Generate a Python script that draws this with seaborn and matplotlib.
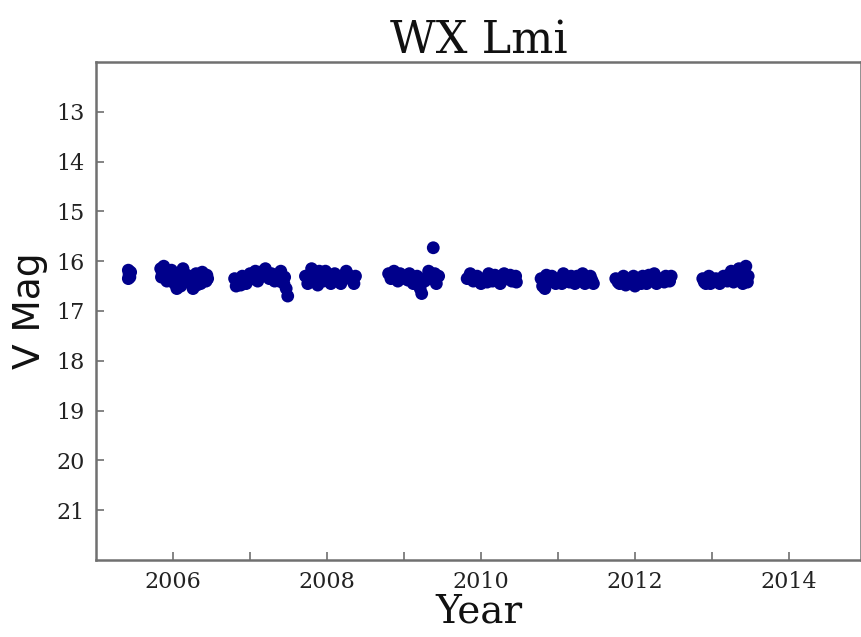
import numpy as np
import pandas as pd
import matplotlib
matplotlib.use("Agg")
import matplotlib.pyplot as plt
import seaborn as sns

# ---- data ----
s1_year = [2005.42, 2005.43, 2005.44, 2005.42, 2005.45, 2005.43]
s1_mag = [16.18, 16.25, 16.32, 16.35, 16.22, 16.30]

s2_year = [2005.84, 2005.86, 2005.88, 2005.90, 2005.93, 2005.96, 2006.00, 2006.02, 2006.05, 2006.08, 2006.10,
           2006.13, 2006.16, 2006.20, 2006.23, 2006.26, 2006.30, 2006.33, 2006.36, 2006.40, 2006.43, 2006.45,
           2005.85, 2005.92, 2005.98, 2006.04, 2006.11, 2006.18, 2006.24, 2006.31, 2006.38, 2006.44]
s2_mag = [16.15, 16.25, 16.10, 16.30, 16.20, 16.35, 16.25, 16.45, 16.55, 16.30, 16.50,
          16.15, 16.40, 16.30, 16.45, 16.55, 16.25, 16.35, 16.45, 16.30, 16.40, 16.35,
          16.32, 16.40, 16.18, 16.38, 16.22, 16.28, 16.35, 16.48, 16.22, 16.28]

s3_year = [2006.80, 2006.82, 2006.85, 2006.90, 2006.95, 2007.00, 2007.03, 2007.07, 2007.10, 2007.15,
           2007.20, 2007.25, 2007.28, 2007.32, 2007.36, 2007.40, 2007.44, 2007.47, 2007.49,
           2006.88, 2006.98, 2007.05, 2007.13, 2007.22, 2007.30, 2007.38, 2007.45]
s3_mag = [16.35, 16.50, 16.40, 16.30, 16.45, 16.25, 16.35, 16.20, 16.40, 16.30,
          16.15, 16.35, 16.25, 16.40, 16.30, 16.20, 16.45, 16.55, 16.70,
          16.48, 16.38, 16.28, 16.22, 16.30, 16.35, 16.40, 16.32]

s4_year = [2007.72, 2007.75, 2007.80, 2007.85, 2007.90, 2007.95, 2008.00, 2008.05, 2008.10, 2008.15,
           2008.20, 2008.25, 2008.30, 2008.35, 2007.78, 2007.88, 2007.98, 2008.08, 2008.18, 2008.28, 2008.37]
s4_mag = [16.30, 16.45, 16.15, 16.35, 16.20, 16.40, 16.30, 16.45, 16.25, 16.40,
          16.30, 16.20, 16.35, 16.45, 16.38, 16.48, 16.20, 16.35, 16.45, 16.28, 16.30]

s5_year = [2008.80, 2008.83, 2008.87, 2008.92, 2008.97, 2009.02, 2009.07, 2009.12, 2009.17, 2009.21,
           2009.23, 2009.27, 2009.32, 2009.36, 2009.38, 2009.42, 2009.45, 2008.85, 2008.95, 2009.05, 2009.15,
           2009.30, 2009.40]
s5_mag = [16.25, 16.35, 16.20, 16.40, 16.30, 16.35, 16.25, 16.45, 16.30, 16.55,
          16.65, 16.40, 16.20, 16.35, 15.73, 16.45, 16.30, 16.30, 16.25, 16.38, 16.40,
          16.32, 16.25]

s6_year = [2009.82, 2009.86, 2009.90, 2009.95, 2010.00, 2010.05, 2010.10, 2010.15, 2010.20, 2010.25,
           2010.30, 2010.35, 2010.40, 2010.45, 2009.88, 2009.98, 2010.08, 2010.18, 2010.28, 2010.38, 2010.46]
s6_mag = [16.35, 16.25, 16.40, 16.30, 16.45, 16.35, 16.25, 16.40, 16.30, 16.45,
          16.25, 16.35, 16.40, 16.30, 16.32, 16.38, 16.42, 16.28, 16.38, 16.28, 16.42]

s7_year = [2010.78, 2010.80, 2010.83, 2010.87, 2010.92, 2010.97, 2011.02, 2011.07, 2011.12, 2011.17,
           2011.22, 2011.27, 2011.32, 2011.37, 2011.42, 2011.46, 2010.85, 2010.95, 2011.05, 2011.15,
           2011.25, 2011.35, 2011.44]
s7_mag = [16.35, 16.50, 16.55, 16.40, 16.30, 16.45, 16.35, 16.25, 16.40, 16.30,
          16.45, 16.35, 16.25, 16.40, 16.30, 16.45, 16.28, 16.38, 16.45, 16.42,
          16.30, 16.45, 16.38]

s8_year = [2011.75, 2011.80, 2011.85, 2011.90, 2011.95, 2012.00, 2012.05, 2012.10, 2012.15, 2012.20,
           2012.25, 2012.30, 2012.35, 2012.40, 2012.45, 2011.78, 2011.88, 2011.98, 2012.08, 2012.18,
           2012.28, 2012.38, 2012.47]
s8_mag = [16.35, 16.45, 16.30, 16.40, 16.35, 16.50, 16.40, 16.30, 16.45, 16.35,
          16.25, 16.40, 16.35, 16.30, 16.40, 16.42, 16.48, 16.30, 16.45, 16.28,
          16.45, 16.42, 16.30]

s9_year = [2012.88, 2012.92, 2012.96, 2013.00, 2013.05, 2013.10, 2013.15, 2013.20, 2013.25, 2013.30,
           2013.35, 2013.40, 2013.44, 2013.47, 2012.90, 2012.98, 2013.08, 2013.18, 2013.28, 2013.38,
           2013.46, 2013.42]
s9_mag = [16.35, 16.45, 16.30, 16.40, 16.35, 16.45, 16.30, 16.40, 16.20, 16.35,
          16.15, 16.45, 16.10, 16.30, 16.42, 16.45, 16.38, 16.30, 16.42, 16.25,
          16.42, 16.20]

x_ticks = [2006, 2008, 2010, 2012, 2014]
y_ticks = [13, 14, 15, 16, 17, 18, 19, 20, 21]

years = s1_year + s2_year + s3_year + s4_year + s5_year + s6_year + s7_year + s8_year + s9_year
mags = s1_mag + s2_mag + s3_mag + s4_mag + s5_mag + s6_mag + s7_mag + s8_mag + s9_mag
df = pd.DataFrame({"Year": years, "VMag": mags})

sns.set_style("white")
plt.rcParams["font.family"] = ["DejaVu Serif"]

fig = plt.figure(figsize=(8.62, 6.37), dpi=100)
ax = fig.add_axes([96 / 862, 1 - 560 / 637, (861 - 96) / 862, (560 - 62) / 637])

sns.scatterplot(data=df, x="Year", y="VMag", ax=ax, color="#00008B", s=85,
                edgecolor="none", linewidth=0, legend=False)

ax.set_xlim(2005, 2005 + (861 - 96) / 77.0)
ax.set_ylim(22, 12)
ax.set_xticks(x_ticks)
ax.set_xticklabels([str(t) for t in x_ticks])
ax.set_xticks([2007, 2009, 2011, 2013], minor=True)
ax.set_yticks(y_ticks)
ax.set_yticklabels([str(t) for t in y_ticks])

for side in ["left", "bottom", "top", "right"]:
    ax.spines[side].set_color("#707070")
    ax.spines[side].set_linewidth(1.8)

ax.tick_params(axis="both", which="major", direction="in", length=6, width=1.2,
               color="#707070", labelsize=16, labelcolor="#222222",
               bottom=True, left=True, top=False, right=False, pad=8)
ax.tick_params(axis="x", which="minor", direction="in", length=6, width=1.2,
               color="#707070", bottom=True, top=False)

ax.set_title("WX Lmi", fontsize=32, pad=6, color="#111111")
ax.set_xlabel("Year", fontsize=28, labelpad=0, color="#111111")
ax.set_ylabel("V Mag", fontsize=27, family=["DejaVu Sans"], labelpad=6, color="#111111")

fig.savefig("out.png", dpi=100)
